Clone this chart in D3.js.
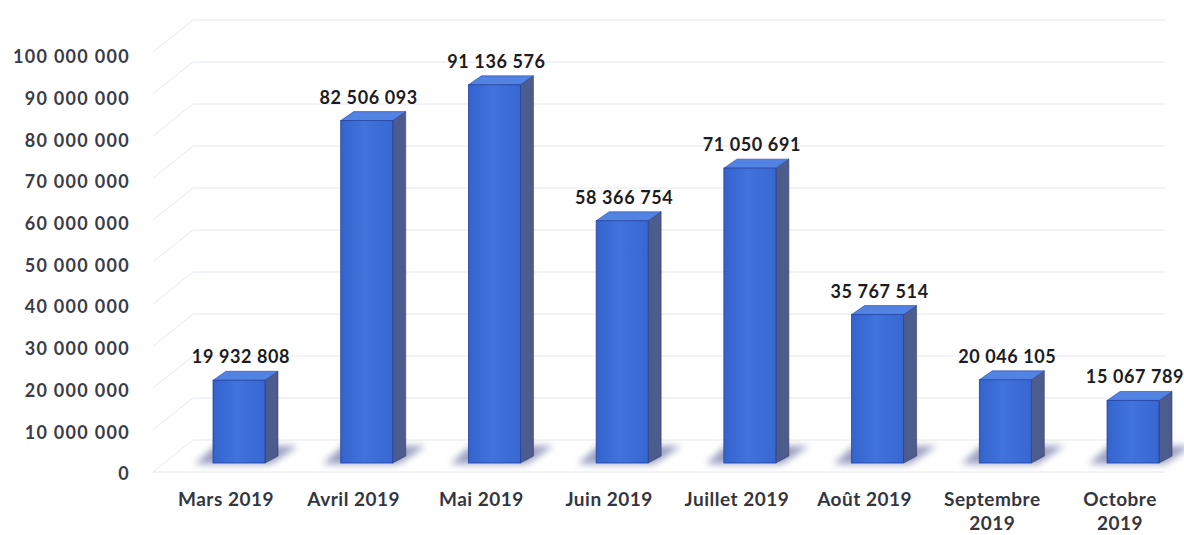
<!DOCTYPE html>
<html>
<head>
<meta charset="utf-8">
<script src="https://cdn.jsdelivr.net/npm/d3@7"></script>
<style>
  body { margin: 0; background: #ffffff; }
  svg { display: block; }
</style>
</head>
<body>
<div id="chart"></div>
<script>
// données
var months = ["Mars 2019", "Avril 2019", "Mai 2019", "Juin 2019", "Juillet 2019", "Août 2019", "Septembre 2019", "Octobre 2019"];
var monthLines = [["Mars 2019"], ["Avril 2019"], ["Mai 2019"], ["Juin 2019"], ["Juillet 2019"], ["Août 2019"], ["Septembre", "2019"], ["Octobre", "2019"]];
var values = [19932808, 82506093, 91136576, 58366754, 71050691, 35767514, 20046105, 15067789];
var yTicks = [0, 10000000, 20000000, 30000000, 40000000, 50000000, 60000000, 70000000, 80000000, 90000000, 100000000];

var width = 1184, height = 535;
var depthX = 13, depthY = 9;   // effet 3D

var svg = d3.select("#chart")
    .append("svg")
    .attr("width", width)
    .attr("height", height);

// format français : espace comme séparateur de milliers
var fmt = d3.formatLocale({ decimal: ",", thousands: " ", grouping: [3], currency: ["", " €"] }).format(",d");

// échelles
var x = d3.scaleBand()
    .domain(months)
    .range([213, 1159])
    .paddingInner(0.593)
    .paddingOuter(0);

var y = d3.scaleLinear().domain([0, 100000000]).range([463, 48]);       // face avant des barres
var yWall = d3.scaleLinear().domain([0, 100000000]).range([440, 20]);   // mur du fond
var yTick = d3.scaleLinear().domain([0, 100000000]).range([474, 57]);   // étiquettes de l'axe

var defs = svg.append("defs");
var grad = defs.append("linearGradient").attr("id", "front").attr("x1", "0").attr("x2", "1").attr("y1", "0").attr("y2", "0");
grad.append("stop").attr("offset", "0%").attr("stop-color", "#3463cc");
grad.append("stop").attr("offset", "45%").attr("stop-color", "#4173dc");
grad.append("stop").attr("offset", "100%").attr("stop-color", "#3867d0");
defs.append("filter").attr("id", "blur")
    .attr("x", "-30%").attr("y", "-100%").attr("width", "160%").attr("height", "300%")
    .append("feGaussianBlur").attr("stdDeviation", 3.5);

// quadrillage (mur gauche + mur du fond)
svg.append("g")
    .selectAll("path")
    .data(yTicks)
    .enter()
    .append("path")
    .attr("d", function(d) {
        var yb = yWall(d);
        return "M153," + (yb + 32) + "L193," + yb + "L1165," + yb;
    })
    .attr("fill", "none")
    .attr("stroke", "#e6e8f0")
    .attr("stroke-width", 1);

// bord avant du sol
svg.append("line")
    .attr("x1", 153).attr("x2", 1165)
    .attr("y1", yWall(0) + 32).attr("y2", yWall(0) + 32)
    .attr("stroke", "#e6e8f0");

// axe vertical
var axis = svg.append("g")
    .attr("transform", "translate(130,0)")
    .call(d3.axisLeft(yTick).tickValues(yTicks).tickFormat(fmt).tickSize(0).tickPadding(0));
axis.select(".domain").remove();
axis.selectAll("text")
    .style("font-family", "Lato, 'Open Sans', sans-serif")
    .style("font-weight", "bold")
    .style("font-size", "18px")
    .style("letter-spacing", "1.3px")
    .attr("fill", "#3a3c48");

var bars = svg.append("g")
    .selectAll("g")
    .data(values)
    .enter()
    .append("g");

// ombre au sol
bars.append("path")
    .attr("d", function(d, i) {
        var x0 = x(months[i]), x1 = x0 + x.bandwidth(), y0 = y(0);
        return "M" + (x0 - 18) + "," + (y0 + 1) + "L" + (x1 + 6) + "," + (y0 + 1) +
            "L" + (x1 + depthX + 20) + "," + (y0 - depthY - 8) + "L" + (x0 + 2) + "," + (y0 - depthY - 8) + "Z";
    })
    .attr("fill", "#9a9fc0")
    .attr("filter", "url(#blur)");

// face latérale
bars.append("path")
    .attr("d", function(d, i) {
        var x1 = x(months[i]) + x.bandwidth();
        return "M" + x1 + "," + y(d) + "L" + (x1 + depthX) + "," + (y(d) - depthY) +
            "L" + (x1 + depthX) + "," + (y(0) - depthY + 2) + "L" + x1 + "," + y(0) + "Z";
    })
    .attr("fill", "#4d5c8c")
    .attr("stroke", "#2c3b76")
    .attr("stroke-width", 0.6);

// face supérieure
bars.append("path")
    .attr("d", function(d, i) {
        var x0 = x(months[i]), x1 = x0 + x.bandwidth();
        return "M" + x0 + "," + y(d) + "L" + x1 + "," + y(d) +
            "L" + (x1 + depthX) + "," + (y(d) - depthY) + "L" + (x0 + depthX) + "," + (y(d) - depthY) + "Z";
    })
    .attr("fill", "#5282e2")
    .attr("stroke", "#2546a6")
    .attr("stroke-width", 0.6);

// face avant
bars.append("rect")
    .attr("x", function(d, i) { return x(months[i]); })
    .attr("y", function(d) { return y(d); })
    .attr("width", x.bandwidth())
    .attr("height", function(d) { return y(0) - y(d); })
    .attr("fill", "url(#front)")
    .attr("stroke", "#2243a4")
    .attr("stroke-width", 0.8);

// étiquettes de valeurs
bars.append("text")
    .attr("x", function(d, i) { return x(months[i]) + x.bandwidth() / 2 + 2; })
    .attr("y", function(d) { return y(d) - 17; })
    .attr("text-anchor", "middle")
    .style("font-family", "Lato, 'Open Sans', sans-serif")
    .style("font-weight", "bold")
    .style("font-size", "18px")
    .style("letter-spacing", "0.6px")
    .attr("fill", "#1c1c22")
    .text(function(d) { return fmt(d); });

// étiquettes des mois
var labels = svg.append("g")
    .selectAll("text")
    .data(monthLines)
    .enter()
    .append("text")
    .attr("text-anchor", "middle")
    .attr("transform", function(d, i) { return "translate(" + (x(months[i]) + x.bandwidth() / 2 - 13) + ",506)"; })
    .style("font-family", "Lato, 'Open Sans', sans-serif")
    .style("font-weight", "bold")
    .style("font-size", "19px")
    .style("letter-spacing", "0.5px")
    .attr("fill", "#34363f");

labels.selectAll("tspan")
    .data(function(d) { return d; })
    .enter()
    .append("tspan")
    .attr("x", 0)
    .attr("y", function(d, j) { return j * 24; })
    .text(function(d) { return d; });
</script>
</body>
</html>
